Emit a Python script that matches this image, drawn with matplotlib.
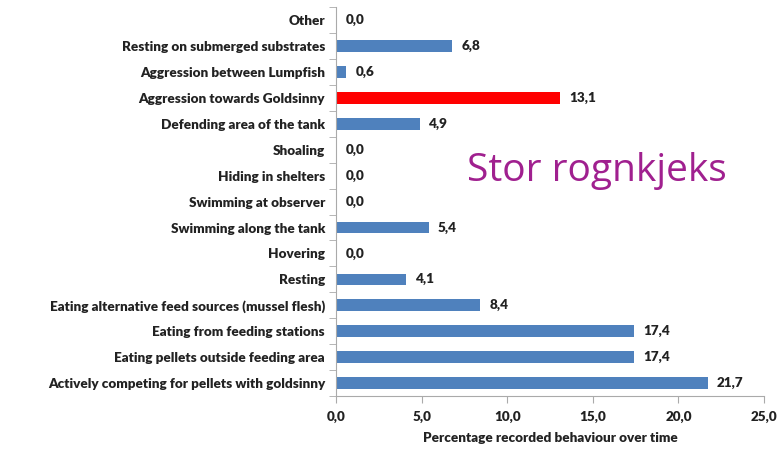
import matplotlib
matplotlib.use("Agg")
import matplotlib.pyplot as plt
import numpy as np

categories = [
    "Other",
    "Resting on submerged substrates",
    "Aggression between Lumpfish",
    "Aggression towards Goldsinny",
    "Defending area of the tank",
    "Shoaling",
    "Hiding in shelters",
    "Swimming at observer",
    "Swimming along the tank",
    "Hovering",
    "Resting",
    "Eating alternative feed sources (mussel flesh)",
    "Eating from feeding stations",
    "Eating pellets outside feeding area",
    "Actively competing for pellets with goldsinny",
]
values = [0.0, 6.8, 0.6, 13.1, 4.9, 0.0, 0.0, 0.0, 5.4, 0.0, 4.1, 8.4, 17.4, 17.4, 21.7]
highlight = "Aggression towards Goldsinny"
xticks = [0, 5, 10, 15, 20, 25]

plt.rcParams['font.family'] = ['Lato', 'DejaVu Sans']
plt.rcParams['font.weight'] = 'bold'

fig = plt.figure(figsize=(7.78, 4.49), dpi=100)
ax = fig.add_axes([0.432, 0.118, 0.550, 0.866])

y = np.arange(len(categories))
colors = ['#ff0000' if c == highlight else '#4f81bd' for c in categories]
ax.barh(y, values, height=0.45, color=colors)
ax.set_ylim(len(categories) - 0.5, -0.5)
ax.set_xlim(0, 25)

fs = 9.7
for yi, v in zip(y, values):
    ax.text(v + 0.55, yi, f"{v:.1f}".replace('.', ','), va='center', ha='left',
            fontsize=fs, fontweight='heavy', color='#222222')

ax.set_yticks(y)
ax.set_yticklabels(categories, fontsize=fs, fontweight='heavy', color='#222222')
ax.set_yticks(np.arange(-0.5, len(categories), 1.0), minor=True)
ax.tick_params(axis='y', which='major', length=0, pad=8)
ax.tick_params(axis='y', which='minor', length=5, color='#aaaaaa', direction='out')

ax.set_xticks(xticks)
ax.set_xticklabels([f"{t:.1f}".replace('.', ',') for t in xticks], fontsize=fs,
                   fontweight='heavy', color='#222222')
ax.tick_params(axis='x', length=5, color='#aaaaaa', direction='out', pad=6)
ax.set_xlabel("Percentage recorded behaviour over time", fontsize=fs,
              fontweight='heavy', color='#222222', labelpad=6)

for s in ['top', 'right']:
    ax.spines[s].set_visible(False)
for s in ['left', 'bottom']:
    ax.spines[s].set_color('#aaaaaa')

fig.text(0.600, 0.620, "Stor rognkjeks", fontsize=28, color='#a0208f',
         fontweight='normal', family=['Open Sans', 'DejaVu Sans'], va='center', ha='left')

fig.savefig("out.png", dpi=100)
